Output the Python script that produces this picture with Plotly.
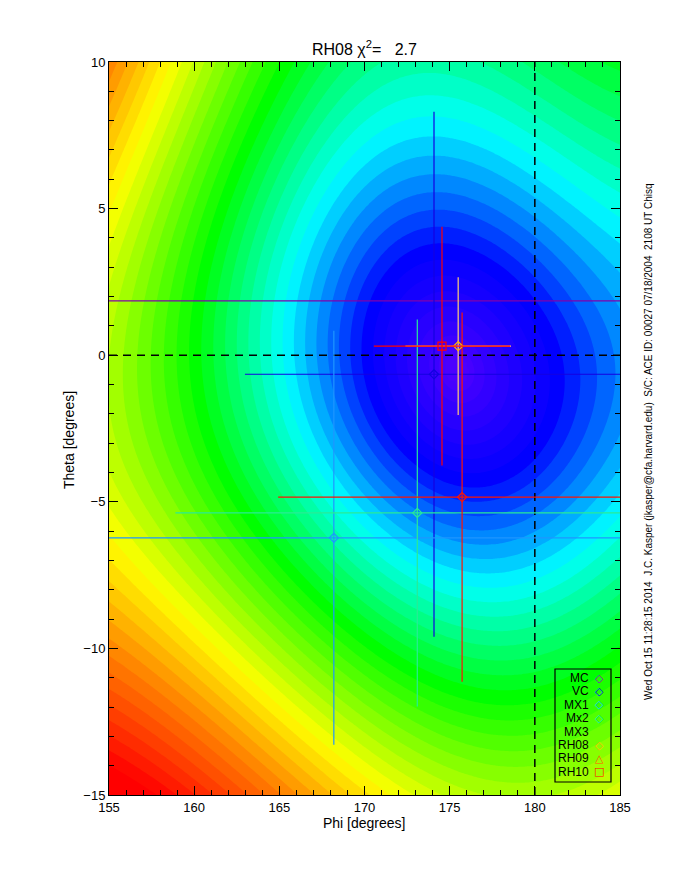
import numpy as np
import plotly.graph_objects as go

# ---------------- data ----------------
PHI_RANGE = [155, 185]
THETA_RANGE = [-15, 10]
X_TICKS = [155, 160, 165, 170, 175, 180, 185]
Y_TICKS = [-15, -10, -5, 0, 5, 10]
REF_PHI = 180.0
REF_THETA = 0.0

# error-bar points (phi, theta, +/- errors)
pt_names = ["MC", "VC", "MX1", "MX2", "MX3", "RH08", "RH10"]
pt_phi = [192.0, 174.08, 168.2, 173.1, 175.73, 175.5, 174.55]
pt_theta = [1.85, -0.65, -6.23, -5.38, -4.84, 0.31, 0.31]
pt_phi_err = [45.0, 11.1, 40.0, 14.2, 10.8, 3.1, 4.0]
pt_theta_err = [0.0, 8.95, 7.06, 6.6, 6.3, 2.35, 4.07]
pt_line_color = ["rgb(130,0,170)", "rgb(20,0,225)", "rgb(30,150,255)", "rgb(40,235,150)",
                 "rgb(255,20,0)", "rgb(255,205,120)", "rgb(255,0,0)"]
pt_marker_color = ["rgb(130,0,170)", "rgb(20,0,225)", "rgb(30,150,255)", "rgb(40,235,150)",
                   "rgb(255,20,0)", "rgb(255,180,0)", "rgb(255,0,0)"]
pt_symbol = ["diamond-open", "diamond-open", "diamond-open", "diamond-open",
             "diamond-open", "diamond-open", "square-open"]
pt_size = [7, 7, 7, 7, 7, 7, 8]

# legend box entries
leg_labels = ["MC", "VC", "MX1", "Mx2", "MX3", "RH08", "RH09", "RH10"]
leg_symbols = ["\u25c7", "\u25c7", "\u25c7", "\u25c7", "", "\u25c7", "\u25b3", "\u25a1"]
leg_colors = ["rgb(150,0,200)", "rgb(0,0,255)", "rgb(0,200,255)", "rgb(0,230,190)",
              "rgb(0,255,0)", "rgb(255,190,0)", "rgb(255,90,0)", "rgb(255,0,0)"]

TITLE = "RH08 \u03c7<sup>2</sup>=\u00a0\u00a0\u00a02.7"
SIDE_TEXT = ("Wed Oct 15 11:28:15 2014\u00a0\u00a0J.C. Kasper (jkasper@cfa.harvard.edu)"
             "\u00a0\u00a0S/C: ACE ID: 00027 07/18/2004\u00a0\u00a02108 UT Chisq")

# chi^2 map: colour level (0 = violet minimum ... 1 = red) read at sample points
lvl_phi = [175.9, 173.8, 178.0, 175.9, 175.9,
           171.4, 180.0, 175.9, 175.9,
           167.4, 165.9, 163.2, 159.4, 155.0,
           185.0, 185.0, 185.0, 185.0, 185.0, 185.0,
           175.9, 175.9, 175.9,
           175.9, 175.9, 175.9, 175.9,
           166.3, 166.3,
           160.0, 165.0, 170.0, 157.5, 155.0,
           168.2, 166.0, 163.0, 160.0, 155.0, 172.0,
           155.0, 155.0, 155.0, 155.0, 155.0, 155.0, 155.0,
           163.0, 165.0, 168.5, 181.0, 181.0, 160.0, 161.0]
lvl_theta = [-0.15, 0.0, 0.0, 1.7, -2.0,
             0.0, 0.0, 3.2, -3.5,
             0.0, 0.0, 0.0, 0.0, 0.0,
             0.0, 5.0, -5.5, 10.0, -10.0, -15.0,
             5.0, 8.4, 10.0,
             -6.3, -8.35, -11.4, -15.0,
             -4.3, -7.0,
             10.0, 10.0, 10.0, 10.0, 10.0,
             -15.0, -15.0, -15.0, -15.0, -15.0, -15.0,
             5.0, 2.5, -4.0, -7.0, -9.0, -11.1, -13.1,
             6.0, -8.5, 6.0, -7.3, 7.5, -10.0, -5.0]
lvl_value = [0.0, 0.10, 0.10, 0.10, 0.10,
             0.17, 0.19, 0.18, 0.18,
             0.264, 0.33, 0.415, 0.50, 0.62,
             0.28, 0.32, 0.33, 0.48, 0.50, 0.66,
             0.25, 0.33, 0.39,
             0.22, 0.33, 0.50, 0.68,
             0.35, 0.43,
             0.62, 0.50, 0.45, 0.71, 0.87,
             0.77, 0.80, 0.86, 0.97, 1.03, 0.70,
             0.71, 0.65, 0.66, 0.72, 0.79, 0.87, 0.95,
             0.50, 0.50, 0.33, 0.33, 0.33, 0.77, 0.60]

# ---------- smooth surface through the read levels (least squares, degree 4) ----------
C_PHI, C_TH, SC = 175.9, -0.15, 10.0

def basis(ph, th):
    X = (np.asarray(ph) - C_PHI) / SC
    Y = (np.asarray(th) - C_TH) / SC
    cols = []
    for i in range(5):
        for j in range(5 - i):
            if i + j == 0:
                continue
            cols.append(X ** i * Y ** j)
    return np.stack(cols, axis=-1)

Bm_ = basis(lvl_phi, lvl_theta)
w = np.ones(len(lvl_value))
w[0:5] = 3.0
coef, *_ = np.linalg.lstsq(Bm_ * w[:, None], np.asarray(lvl_value) ** 2 * w, rcond=None)

phi_grid = np.linspace(PHI_RANGE[0], PHI_RANGE[1], 241)
th_grid = np.linspace(THETA_RANGE[0], THETA_RANGE[1], 201)
P, T = np.meshgrid(phi_grid, th_grid)
G = basis(P, T) @ coef
Z = np.sqrt(np.clip(G, 0, None))

colorscale = [
    [0.00, "rgb(75,0,255)"],
    [0.10, "rgb(30,0,255)"],
    [0.17, "rgb(0,0,255)"],
    [0.33, "rgb(0,255,255)"],
    [0.50, "rgb(0,255,0)"],
    [0.71, "rgb(255,255,0)"],
    [0.84, "rgb(255,128,0)"],
    [1.00, "rgb(255,0,0)"],
]

fig = go.Figure()
fig.add_trace(go.Contour(
    x=phi_grid, y=th_grid, z=Z, zmin=0, zmax=1, colorscale=colorscale,
    contours=dict(start=0, end=1.3, size=0.022, coloring="fill"),
    line=dict(width=0), showscale=False, hoverinfo="skip"))

# dashed reference lines
fig.add_trace(go.Scatter(x=[REF_PHI, REF_PHI], y=THETA_RANGE, mode="lines",
                         line=dict(color="black", width=1.5, dash="8px,6px"),
                         showlegend=False, hoverinfo="skip"))
fig.add_trace(go.Scatter(x=PHI_RANGE, y=[REF_THETA, REF_THETA], mode="lines",
                         line=dict(color="black", width=1.5, dash="8px,6px"),
                         showlegend=False, hoverinfo="skip"))

for i in range(len(pt_names)):
    fig.add_trace(go.Scatter(
        x=[pt_phi[i]], y=[pt_theta[i]], mode="markers", name=pt_names[i],
        marker=dict(symbol=pt_symbol[i], size=pt_size[i], color=pt_marker_color[i],
                    line=dict(color=pt_marker_color[i], width=1.2)),
        error_x=dict(type="data", array=[pt_phi_err[i]], color=pt_line_color[i],
                     thickness=1.2, width=0, visible=pt_phi_err[i] > 0),
        error_y=dict(type="data", array=[pt_theta_err[i]], color=pt_line_color[i],
                     thickness=1.2, width=0, visible=pt_theta_err[i] > 0),
        showlegend=False))

FONT = "Liberation Sans"

axis_common = dict(showgrid=False, zeroline=False, showline=True, linecolor="black",
                   linewidth=1, mirror="ticks", ticks="inside", ticklen=9,
                   tickcolor="black", tickwidth=1,
                   tickfont=dict(family=FONT, size=13, color="black"))

fig.update_xaxes(range=PHI_RANGE, tickvals=X_TICKS,
                 minor=dict(dtick=1, ticklen=5, ticks="inside", tickcolor="black"),
                 **axis_common)
fig.update_yaxes(range=THETA_RANGE, tickvals=Y_TICKS,
                 minor=dict(dtick=1, ticklen=5, ticks="inside", tickcolor="black"),
                 **axis_common)

W, H = 680, 880
# reference plot-area geometry (pixels in the reference picture)
RL, RR, RT, RB = 108, 619, 62, 795
pw, ph = RR - RL, RB - RT
OFF_X, OFF_Y = 7, 8   # page offset of the rendered figure
L, Tm = RL - OFF_X, RT - OFF_Y
R, Bm = W - L - pw, H - Tm - ph

def px(xp):
    return (xp - RL) / pw

def py(yp):
    return (RB - yp) / ph

ann = []
ann.append(dict(text=TITLE, x=0.5, y=py(48), xref="paper", yref="paper",
                showarrow=False, font=dict(family=FONT, size=16, color="black"),
                xanchor="center", yanchor="middle"))
ann.append(dict(text="Phi [degrees]", x=0.5, y=py(823), xref="paper", yref="paper",
                showarrow=False, font=dict(family=FONT, size=14, color="black"),
                xanchor="center", yanchor="middle"))
ann.append(dict(text="Theta [degrees]", x=px(68), y=py(440), xref="paper", yref="paper",
                showarrow=False, textangle=-90,
                font=dict(family=FONT, size=14, color="black"),
                xanchor="center", yanchor="middle"))
ann.append(dict(text=SIDE_TEXT, x=px(648), y=py(442), xref="paper", yref="paper",
                showarrow=False, textangle=-90,
                font=dict(family=FONT, size=10, color="black"),
                xanchor="center", yanchor="middle"))

row0, drow = 678, 13.4
for i, lab in enumerate(leg_labels):
    yy = row0 + i * drow
    ann.append(dict(text=lab, x=px(590), y=py(yy), xref="paper", yref="paper",
                    showarrow=False, xanchor="right", yanchor="middle",
                    font=dict(family=FONT, size=12, color="black")))
    if leg_symbols[i]:
        ann.append(dict(text=leg_symbols[i], x=px(598), y=py(yy), xref="paper",
                        yref="paper", showarrow=False, xanchor="center",
                        yanchor="middle",
                        font=dict(family="DejaVu Sans", size=11, color=leg_colors[i])))

shapes = [dict(type="rect", xref="paper", yref="paper", x0=px(554), x1=px(610),
               y0=py(782), y1=py(669), line=dict(color="black", width=1.2),
               fillcolor="rgba(0,0,0,0)", layer="above")]

fig.update_layout(width=W, height=H, margin=dict(l=L, r=R, t=Tm, b=Bm),
                  paper_bgcolor="white", plot_bgcolor="white",
                  annotations=ann, shapes=shapes, showlegend=False,
                  font=dict(family=FONT, color="black"))

fig.write_html("out.html")
